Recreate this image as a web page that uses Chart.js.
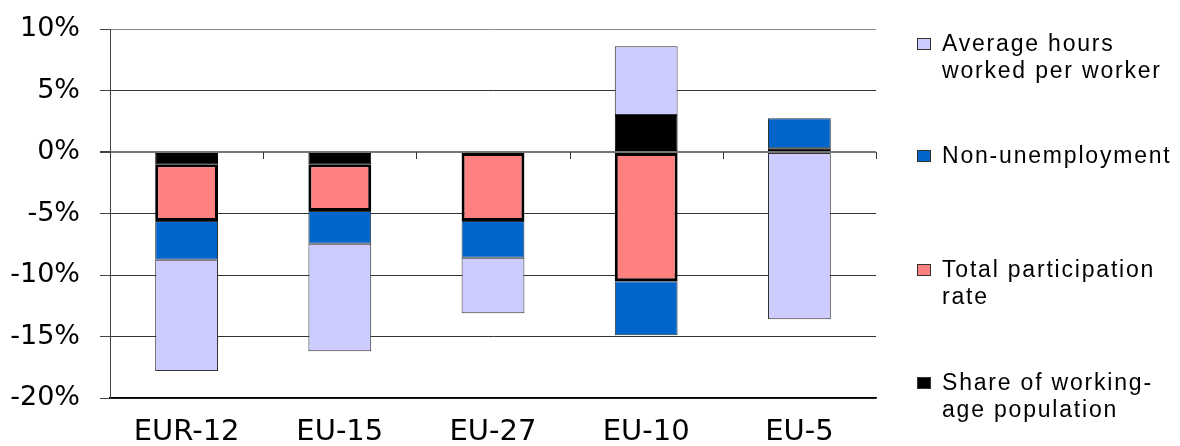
<!DOCTYPE html>
<html>
<head>
<meta charset="utf-8">
<script src="https://cdn.jsdelivr.net/npm/chart.js@4/dist/chart.umd.min.js"></script>
<style>
  html, body { margin: 0; padding: 0; background: #fff; }
  #wrap { position: relative; width: 1180px; height: 446px; }
  #legend { position: absolute; left: 0; top: 0; font-family: "Liberation Sans", Arial, sans-serif; font-size: 23px; letter-spacing: 1.8px; color: #000; }
  .item { position: absolute; left: 942px; line-height: 27px; white-space: nowrap; }
  .box { position: absolute; left: -25px; top: 8px; width: 14px; height: 12px; box-sizing: border-box; }
</style>
</head>
<body>
<div id="wrap">
  <canvas id="chart" width="1180" height="446"></canvas>
  <div id="legend"></div>
</div>
<script>
const categories = ['EUR-12', 'EU-15', 'EU-27', 'EU-10', 'EU-5'];

// contributions in percentage points, stacked outward from zero in this order
const sharePop = [-1.0, -1.0, 0, 3.0, 0.3];
const participation = [-4.6, -3.8, -5.6, -10.5, 0];
const nonUnemployment = [-3.15, -2.65, -3.0, -4.4, 2.45];
const avgHours = [-9.05, -8.75, -4.5, 5.6, -13.6];

const yTicks = [10, 5, 0, -5, -10, -15, -20];

const datasets = [
    { label: ['Share of working-', 'age population'], data: sharePop, backgroundColor: '#000000', borderColor: '#000000', borderWidth: 1 },
    { label: ['Total participation', 'rate'], data: participation, backgroundColor: '#ff8080', borderColor: '#000000', borderWidth: 3 },
    { label: ['Non-unemployment'], data: nonUnemployment, backgroundColor: '#0066cc', borderColor: '#333333', borderWidth: 1 },
    { label: ['Average hours', 'worked per worker'], data: avgHours, backgroundColor: '#ccccff', borderColor: '#333333', borderWidth: 1 }
];

// small tick marks under the zero line between categories
const zeroTicks = {
    id: 'zeroTicks',
    afterDatasetsDraw(chart) {
        const x = chart.scales.x, y = chart.scales.y;
        const y0 = y.getPixelForValue(0);
        const step = x.width / categories.length;
        const ctx = chart.ctx;
        ctx.save();
        ctx.strokeStyle = '#333';
        ctx.lineWidth = 1;
        ctx.beginPath();
        for (let i = 0; i <= categories.length; i++) {
            const px = Math.round(x.left + i * step) + 0.5;
            ctx.moveTo(px, y0);
            ctx.lineTo(px, y0 + 7);
        }
        ctx.stroke();
        ctx.restore();
    }
};

const ctx = document.getElementById('chart').getContext('2d');
new Chart(ctx, {
    type: 'bar',
    data: {
        labels: categories,
        datasets: datasets.map(d => Object.assign({ borderSkipped: false, barPercentage: 0.41, categoryPercentage: 1 }, d))
    },
    options: {
        responsive: false,
        animation: false,
        layout: { padding: { top: 29, right: 304, bottom: 0, left: 0 } },
        plugins: {
            legend: { display: false },
            tooltip: { enabled: false }
        },
        scales: {
            x: {
                stacked: true,
                afterFit(scale) { scale.height = 48; },
                grid: { display: false, drawTicks: false },
                border: { display: true, color: '#000', width: 1.5 },
                ticks: {
                    padding: 17,
                    color: '#000',
                    font: { family: 'DejaVu Sans', size: 29 }
                }
            },
            y: {
                stacked: true,
                min: -20,
                max: 10,
                afterFit(scale) {
                    scale.width = 110;
                    scale.paddingTop = 0;
                    scale.paddingBottom = 0;
                },
                afterBuildTicks(scale) { scale.ticks = yTicks.map(v => ({ value: v })); },
                grid: {
                    color: ctx => ctx.tick && ctx.tick.value === 10 ? '#888' : (ctx.tick && ctx.tick.value === 0 ? '#777' : '#333'),
                    lineWidth: ctx => ctx.tick && ctx.tick.value === 0 ? 2 : 1,
                    tickLength: 10,
                    tickColor: '#444'
                },
                border: { color: '#444' },
                ticks: {
                    padding: 20,
                    color: '#000',
                    font: { family: 'DejaVu Sans', size: 27 },
                    callback: v => v + '%'
                }
            }
        }
    },
    plugins: [zeroTicks]
});

// legend on the right, listed top to bottom in reverse stacking order
const legendTops = [30, 142, 256, 369];
const legend = document.getElementById('legend');
datasets.slice().reverse().forEach((d, i) => {
    const item = document.createElement('div');
    item.className = 'item';
    item.style.top = legendTops[i] + 'px';
    const box = document.createElement('div');
    box.className = 'box';
    box.style.background = d.backgroundColor;
    box.style.border = '1.5px solid #333';
    item.appendChild(box);
    item.insertAdjacentHTML('beforeend', d.label.join('<br>'));
    legend.appendChild(item);
});
</script>
</body>
</html>
